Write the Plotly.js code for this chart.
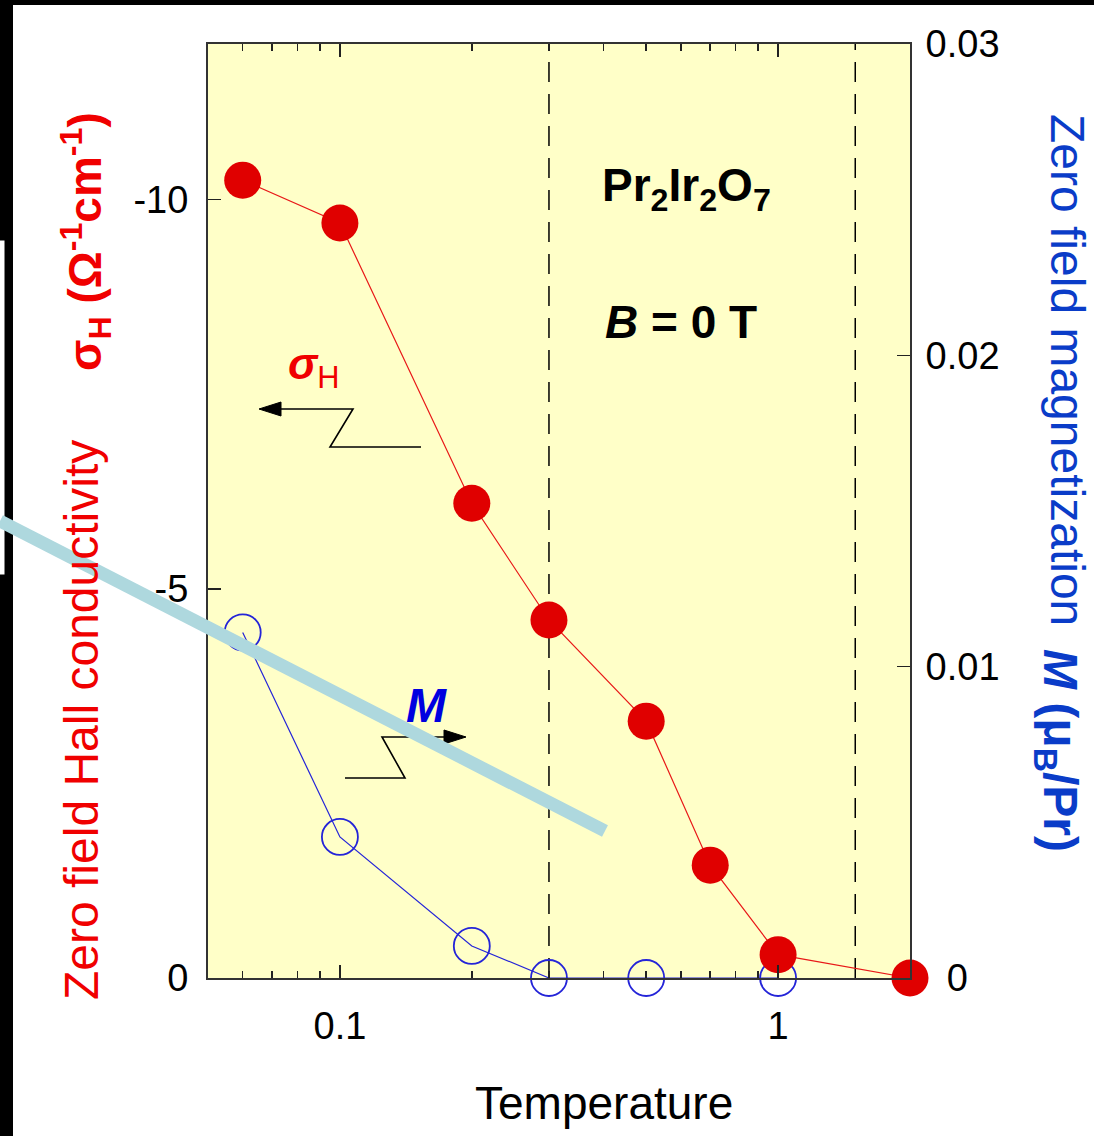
<!DOCTYPE html>
<html>
<head>
<meta charset="utf-8">
<script src="https://cdn.plot.ly/plotly-3.0.1.min.js"></script>
<style>html,body{margin:0;padding:0;background:#fff;}#chart{width:1094px;height:1136px;}</style>
</head>
<body>
<div id="chart"></div>
<script>
// ---- data ----
const tempSigma = [0.06, 0.1, 0.2, 0.3, 0.5, 0.7, 1, 2];
const sigmaH    = [-10.25, -9.7, -6.1, -4.6, -3.3, -1.45, -0.3, 0];
const tempM     = [0.06, 0.1, 0.2, 0.3, 0.5, 1];
const magM      = [0.0111, 0.00453, 0.00103, 0, 0, 0];
const transitionT = [0.3, 1.5];
const xTickVals = [0.1, 1];
const xTickText = ['0.1', '1'];
const xMinorVals = [0.06, 0.07, 0.08, 0.09, 0.2, 0.3, 0.4, 0.5, 0.6, 0.7, 0.8, 0.9];
const sigmaTickVals = [-10, -5, 0];
const sigmaTickText = ['-10', '-5', '0'];
const mTickVals = [0, 0.01, 0.02, 0.03];
const mTickText = ['\u00A0\u00A00', '0.01', '0.02', '0.03'];

// ---- layout geometry helpers (pixel -> paper) ----
const W = 1094, H = 1136, L = 208, R = 910, T = 44, B = 978;
const px = x => (x - L) / (R - L);
const py = y => (B - y) / (B - T);
const FONT = 'Liberation Sans, Arial, sans-serif';
const RED = '#E00000', BLUE = '#2424D8';

const traces = [];
transitionT.forEach(t => traces.push({
  x: [t, t], y: [0, 0.03], yaxis: 'y', mode: 'lines',
  line: {color: '#000', width: 1.5, dash: '20px,12px'},
  hoverinfo: 'skip', showlegend: false
}));
// carrier for the top (mirrored) temperature axis; draws nothing
traces.push({x: transitionT, y: [0, 0], xaxis: 'x2', yaxis: 'y', mode: 'none', hoverinfo: 'skip', showlegend: false});
traces.push({
  x: tempM, y: magM, yaxis: 'y', mode: 'lines+markers', cliponaxis: false,
  line: {color: BLUE, width: 1.2},
  marker: {symbol: 'circle-open', size: 36, color: BLUE, line: {width: 1.8, color: BLUE}},
  showlegend: false, name: 'M'
});
traces.push({
  x: tempSigma, y: sigmaH, yaxis: 'y2', mode: 'lines+markers', cliponaxis: false,
  line: {color: '#E81818', width: 1.2},
  marker: {symbol: 'circle', size: 37, color: RED},
  showlegend: false, name: 'sigma_H'
});

const path = pts => pts.map((p, i) => (i ? 'L' : 'M') + px(p[0]) + ',' + py(p[1])).join(' ');
const shp = (d, extra) => Object.assign({type: 'path', xref: 'paper', yref: 'paper', path: d, layer: 'above',
  line: {color: '#000', width: 1.6}}, extra || {});

const shapes = [
  // frame artifacts of the reference image
  {type: 'rect', xref: 'paper', yref: 'paper', x0: px(0), x1: px(W), y0: py(5), y1: py(0),
   fillcolor: '#000', line: {width: 0}, layer: 'above'},
  {type: 'rect', xref: 'paper', yref: 'paper', x0: px(0), x1: px(13), y0: py(H), y1: py(0),
   fillcolor: '#000', line: {width: 0}, layer: 'above'},
  {type: 'rect', xref: 'paper', yref: 'paper', x0: px(-2), x1: px(5), y0: py(575), y1: py(240),
   fillcolor: '#fff', line: {width: 1, color: '#000'}, layer: 'above'},
  // sigma_H arrow with zigzag
  shp(path([[421, 447], [330, 447], [353, 409], [278, 409]])),
  shp(path([[259, 409], [281, 402], [281, 416]]) + ' Z', {fillcolor: '#000', line: {width: 1, color: '#000'}}),
  // M arrow with zigzag
  shp(path([[345, 778], [405, 778], [382, 737], [446, 737]])),
  shp(path([[466, 737], [444, 730], [444, 744]]) + ' Z', {fillcolor: '#000', line: {width: 1, color: '#000'}}),
  // light blue overlay stroke
  {type: 'line', xref: 'paper', yref: 'paper', x0: px(0), y0: py(521), x1: px(605), y1: py(831),
   line: {color: '#AED8DE', width: 13}, layer: 'above'}
];

const ann = (text, x, y, size, color, extra) => Object.assign({
  text: text, xref: 'paper', yref: 'paper', x: px(x), y: py(y), showarrow: false,
  xanchor: 'center', yanchor: 'middle', font: {family: FONT, size: size, color: color}
}, extra || {});

const annotations = [
  ann('Zero field Hall conductivity', 81, 720, 48, '#F00000', {textangle: -90}),
  ann('<b>σ<sub>H</sub> (Ω<sup>-1</sup>cm<sup>-1</sup>)</b>', 85, 242, 46, '#F00000', {textangle: -90}),
  ann('Zero field magnetization', 1068, 370, 48, '#0A3CC8', {textangle: 90}),
  ann('<b><i>M</i> (μ<sub>B</sub>/Pr)</b>', 1057, 750, 48, '#0A3CC8', {textangle: 90}),
  ann('Temperature', 604, 1103, 46, '#000'),
  ann('<b>Pr<sub>2</sub>Ir<sub>2</sub>O<sub>7</sub></b>', 686, 188, 46, '#000'),
  ann('<b><i>B</i> = 0 T</b>', 681, 322, 46, '#000'),
  ann('<b><i>σ</i></b><sub>H</sub>', 313, 367, 44, '#F00000'),
  ann('<b><i>M</i></b>', 426, 705, 48, '#0000E0')
];

const tickFont = {family: FONT, size: 38, color: '#000'};
const xCommon = {
  type: 'log', range: [Math.log10(0.05), Math.log10(2)],
  tickmode: 'array', tickvals: xTickVals, ticktext: xTickText,
  ticks: 'inside', ticklen: 13, tickwidth: 1.5, tickcolor: '#222',
  minor: {tickmode: 'array', tickvals: xMinorVals, ticks: 'inside', ticklen: 7, tickwidth: 1.5, tickcolor: '#222'},
  showline: true, linecolor: '#333', linewidth: 2,
  showgrid: false, zeroline: false, tickfont: tickFont
};
const layout = {
  width: W, height: H,
  margin: {l: L, r: W - R, t: T, b: H - B, pad: 0},
  paper_bgcolor: '#fff', plot_bgcolor: '#FFFFC8',
  showlegend: false,
  xaxis: Object.assign({}, xCommon, {side: 'bottom', ticklabelstandoff: 13}),
  xaxis2: Object.assign({}, xCommon, {side: 'top', overlaying: 'x', showticklabels: false}),
  yaxis: {
    side: 'right', range: [0, 0.03],
    tickmode: 'array', tickvals: mTickVals, ticktext: mTickText,
    ticks: 'inside', ticklen: 13, tickwidth: 1.5, tickcolor: '#222',
    showline: true, linecolor: '#333', linewidth: 2,
    showgrid: false, zeroline: false, tickfont: tickFont, ticklabelstandoff: 6
  },
  yaxis2: {
    overlaying: 'y', side: 'left', range: [0, -12],
    tickmode: 'array', tickvals: sigmaTickVals, ticktext: sigmaTickText,
    ticks: 'inside', ticklen: 13, tickwidth: 1.5, tickcolor: '#222',
    showline: true, linecolor: '#333', linewidth: 2,
    showgrid: false, zeroline: false, tickfont: tickFont, ticklabelstandoff: 10
  },
  shapes: shapes,
  annotations: annotations
};

Plotly.newPlot('chart', traces, layout, {staticPlot: true, displayModeBar: false});
</script>
</body>
</html>
